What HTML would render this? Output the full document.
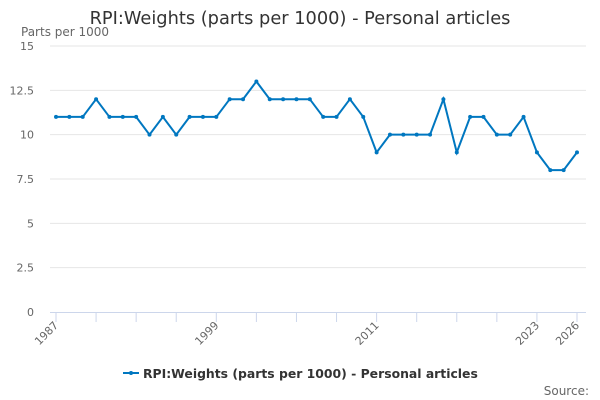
<!DOCTYPE html>
<html><head><meta charset="utf-8"><style>
body{margin:0;background:#fff;font-family:"DejaVu Sans","Liberation Sans",sans-serif}
svg{display:block}
</style></head><body>
<svg id="c" width="600" height="400">
<text x="300" y="24" text-anchor="middle" font-size="17.8" fill="#333">RPI:Weights (parts per 1000) - Personal articles</text>
<text x="21" y="36" font-size="12" fill="#666">Parts per 1000</text>
<g id="grid"></g><g id="xax"></g><g id="series"></g>
<g>
<line x1="123" y1="373" x2="139" y2="373" stroke="#0077c0" stroke-width="2"/>
<circle cx="131" cy="373" r="2" fill="#0077c0"/>
<text x="143" y="378" font-size="12.4" font-weight="bold" fill="#333">RPI:Weights (parts per 1000) - Personal articles</text>
</g>
<text x="589" y="395" text-anchor="end" font-size="12" fill="#666">Source:</text>
</svg>
<script>
const years=[];for(let y=1987;y<=2026;y++)years.push(y);
const values=[11,11,11,12,11,11,11,10,11,10,11,11,11,12,12,13,12,12,12,12,11,11,12,11,9,10,10,10,10,12,9,11,11,10,10,11,9,8,8,9];
const yTicks=[0,2.5,5,7.5,10,12.5,15];
const yTickLabels=["0","2.5","5","7.5","10","12.5","15"];
const xTickYears=[1987,1990,1993,1996,1999,2002,2005,2008,2011,2014,2017,2020,2023,2026];
const xLabelYears=[1987,1999,2011,2023,2026];
const NS="http://www.w3.org/2000/svg";
const X=y=>56+(y-1987)*(577-56)/39;
const Y=v=>312-v*(312-46)/15;
function mk(t,a,p){const e=document.createElementNS(NS,t);for(const k in a)e.setAttribute(k,a[k]);p.appendChild(e);return e;}
const grid=document.getElementById('grid');
yTicks.forEach((v,i)=>{
 if(v>0){const l=mk('line',{x1:50,x2:586,y1:Y(v),y2:Y(v),stroke:'#e6e6e6'},grid);
 
 }
 const t=mk('text',{x:34,y:Y(v)+4,'text-anchor':'end','font-size':11,fill:'#666'},grid);
 t.textContent=yTickLabels[i];
 
 
});
const xax=document.getElementById('xax');
const ax=mk('line',{x1:50,x2:586,y1:312.5,y2:312.5,stroke:'#ccd6eb'},xax);


xTickYears.forEach(y=>{const t=mk('line',{x1:X(y),x2:X(y),y1:312,y2:322,stroke:'#ccd6eb'},xax);
 
 });
xLabelYears.forEach(y=>{const x=X(y)+3,yy=326;
 const t=mk('text',{x:x,y:yy,'text-anchor':'end','font-size':11,fill:'#666',transform:`rotate(-45 ${x} ${yy})`},xax);
 t.textContent=y;
 
 });
const s=document.getElementById('series');
const pl=mk('polyline',{points:values.map((v,i)=>X(years[i])+','+Y(v)).join(' '),fill:'none',stroke:'#0077c0','stroke-width':2},s);


values.forEach((v,i)=>{const c=mk('circle',{cx:X(years[i]),cy:Y(v),r:2,fill:'#0077c0'},s);
 
 });
</script>
</body></html>
